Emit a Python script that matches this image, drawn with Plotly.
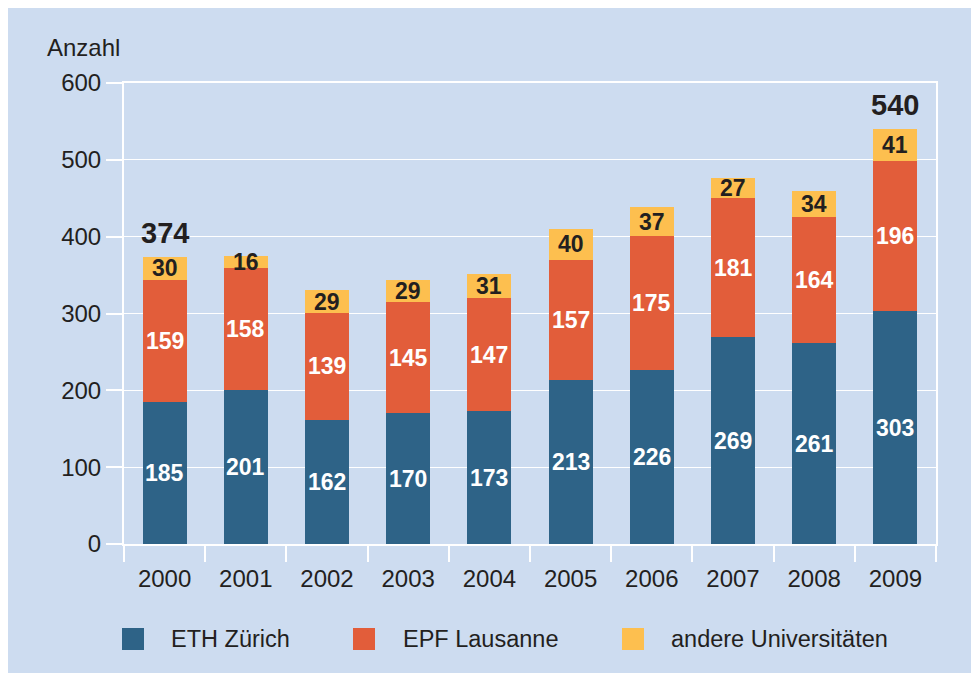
import plotly.graph_objects as go

# ---- data ----
years = ["2000", "2001", "2002", "2003", "2004", "2005", "2006", "2007", "2008", "2009"]
eth = [185, 201, 162, 170, 173, 213, 226, 269, 261, 303]
epf = [159, 158, 139, 145, 147, 157, 175, 181, 164, 196]
andere = [30, 16, 29, 29, 31, 40, 37, 27, 34, 41]
series_names = ["ETH Zürich", "EPF Lausanne", "andere Universitäten"]
total_label_years = ["2000", "2009"]
y_ticks = [0, 100, 200, 300, 400, 500, 600]

# ---- style ----
BG = "#cddcf0"
C_ETH = "#2e6387"
C_EPF = "#e25d3a"
C_AND = "#fdbf4f"
DARK = "#231f20"
FONT = "Liberation Sans, Arial, Helvetica, sans-serif"

OFF = 8  # page body margin
W, H = 979, 673
L, R, T, B = 116, 51, 75, 137
PW, PH = W - L - R, H - T - B


def px_x(px):  # page pixel -> paper x
    return (px - OFF - L) / PW


def px_y(py):  # page pixel -> paper y
    return (H - B - (py - OFF)) / PH


series = [eth, epf, andere]
colors = [C_ETH, C_EPF, C_AND]
label_colors = ["white", "white", DARK]

fig = go.Figure()
for name, vals, col in zip(series_names, series, colors):
    fig.add_trace(go.Bar(x=years, y=vals, name=name, marker=dict(color=col, line=dict(width=0)),
                         width=0.54, showlegend=False, hoverinfo="x+y+name"))

annotations = []
# inside labels at segment midpoints
base = [0] * len(years)
for vals, lc in zip(series, label_colors):
    for i, v in enumerate(vals):
        annotations.append(dict(x=i, y=base[i] + v / 2, xref="x", yref="y", text=str(v),
                                showarrow=False, font=dict(family=FONT, size=23, color=lc, weight="bold"),
                                xanchor="center", yanchor="middle"))
    base = [b + v for b, v in zip(base, vals)]

# totals
for i, yr in enumerate(years):
    if yr in total_label_years:
        annotations.append(dict(x=i, y=base[i], xref="x", yref="y", text=str(base[i]),
                                showarrow=False, font=dict(family=FONT, size=29, color=DARK, weight="bold"),
                                xanchor="center", yanchor="bottom", yshift=6))

# axis title "Anzahl"
annotations.append(dict(x=px_x(45), y=px_y(47), xref="paper", yref="paper", text="Anzahl",
                        showarrow=False, font=dict(family=FONT, size=24, color=DARK),
                        xanchor="left", yanchor="middle"))

shapes = []
# manual legend
legend_sq_left = [122, 353, 622]
legend_text_left = [169, 401, 669]
for name, col, sx, tx in zip(series_names, colors, legend_sq_left, legend_text_left):
    shapes.append(dict(type="rect", xref="paper", yref="paper", x0=px_x(sx), x1=px_x(sx + 22),
                       y0=px_y(650), y1=px_y(628), fillcolor=col, line=dict(width=0)))
    annotations.append(dict(x=px_x(tx), y=px_y(639), xref="paper", yref="paper", text=name,
                            showarrow=False, font=dict(family=FONT, size=23.5, color=DARK),
                            xanchor="left", yanchor="middle"))

fig.update_layout(
    width=W, height=H, autosize=False,
    margin=dict(l=L, r=R, t=T, b=B, pad=0),
    paper_bgcolor=BG, plot_bgcolor=BG,
    barmode="stack",
    showlegend=False,
    font=dict(family=FONT, size=24, color=DARK),
    annotations=annotations, shapes=shapes,
)
fig.update_xaxes(
    type="category", categoryorder="array", categoryarray=years, range=[-0.5, len(years) - 0.5],
    tickson="boundaries", ticks="outside", ticklen=16, tickwidth=2, tickcolor="white",
    ticklabelstandoff=12,
    showline=True, linecolor="white", linewidth=2, mirror=True,
    showgrid=False, tickfont=dict(family=FONT, size=24, color=DARK),
)
fig.update_yaxes(
    range=[0, 600], tickvals=y_ticks, ticks="outside", ticklen=16, tickwidth=1.5, tickcolor="white",
    showline=True, linecolor="white", linewidth=2, mirror=True,
    showgrid=True, gridcolor="white", gridwidth=1, zeroline=False,
    tickfont=dict(family=FONT, size=24, color=DARK),
)

fig.write_html("out.html")
